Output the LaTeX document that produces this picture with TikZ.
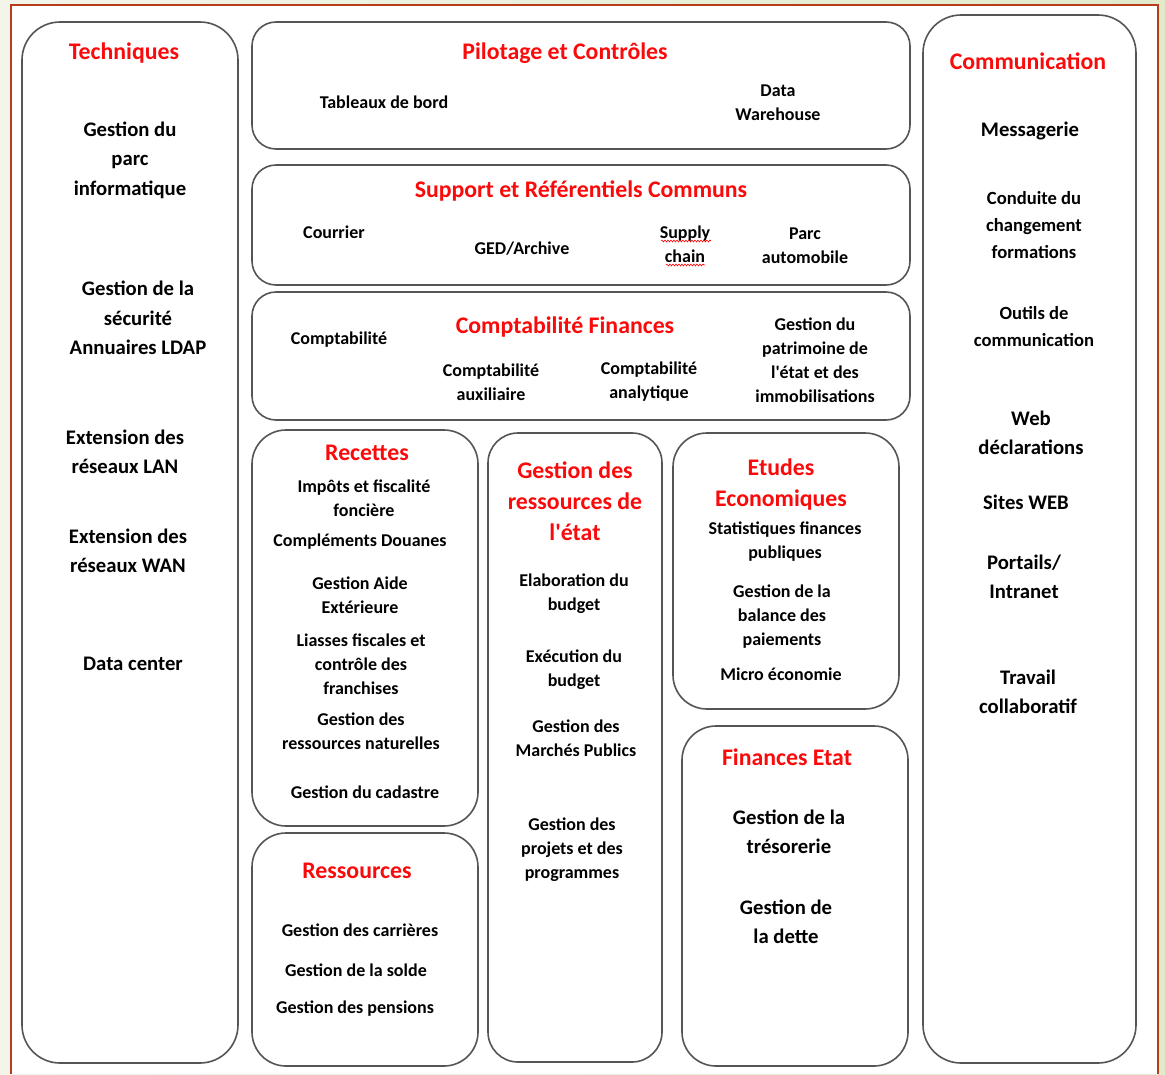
\documentclass[tikz,border=0pt]{standalone}
\usepackage{fontspec}
\setmainfont{Carlito}
\usepackage{tikz}
\usetikzlibrary{decorations.pathmorphing}
\usepackage{xcolor}

\definecolor{bgleft}{RGB}{243,245,234}
\definecolor{bgright}{RGB}{226,234,202}
\definecolor{framered}{RGB}{180,62,30}
\definecolor{panelgray}{RGB}{85,85,85}
\definecolor{titlered}{RGB}{250,10,10}

\tikzset{
  panel/.style={draw=panelgray, line width=1.6pt, fill=white},
  title/.style={text=titlered, font=\fontsize{23.8}{31}\selectfont\bfseries, align=center},
  item/.style={font=\fontsize{18}{24}\selectfont\bfseries, align=center},
  miditem/.style={font=\fontsize{18.6}{27}\selectfont\bfseries, align=center},
  bigitem/.style={font=\fontsize{20.7}{29.5}\selectfont\bfseries, align=center},
  spellmark/.style={draw=red, line width=0.6pt, decorate, decoration={snake, amplitude=0.9pt, segment length=3pt}},
}

\begin{document}
\begin{tikzpicture}[x=1pt, y=-1pt]
    \useasboundingbox (0,0) rectangle (1165,1074);

    % Background and frame
    \fill[left color=bgleft, right color=bgright] (0,0) rectangle (1165,1074);
    \fill[white] (11,5) rectangle (1158,1074);
    \draw[framered, line width=2pt] (11,1074) -- (11,5) -- (1158,5) -- (1158,1074);

    % Panels
    \draw[panel, rounded corners=38] (22,22) rectangle (238,1063);
    \draw[panel, rounded corners=24] (252,22) rectangle (910,149);
    \draw[panel, rounded corners=24] (252,165) rectangle (910,285);
    \draw[panel, rounded corners=24] (252,292) rectangle (910,420);
    \draw[panel, rounded corners=34] (252,430) rectangle (478,826);
    \draw[panel, rounded corners=34] (252,833) rectangle (478,1066);
    \draw[panel, rounded corners=30] (488,433) rectangle (662,1062);
    \draw[panel, rounded corners=34] (673,433) rectangle (899,709);
    \draw[panel, rounded corners=34] (682,726) rectangle (908,1066);
    \draw[panel, rounded corners=38] (923,15) rectangle (1136,1063);

    % Techniques
    \node[title] (techT) at (124,53) {Techniques};
    \node[bigitem] (parc) at (130,160) {Gestion du\\parc\\informatique};
    \node[bigitem] (secu) at (138,318) {Gestion de la\\sécurité\\Annuaires LDAP};
    \node[bigitem] (lan) at (125,452) {Extension des\\réseaux LAN};
    \node[bigitem] (wan) at (128,551) {Extension des\\réseaux WAN};
    \node[bigitem] (dc) at (133,664) {Data center};

    % Pilotage et Controles
    \node[title] (pilT) at (565,53) {Pilotage et Contrôles};
    \node[item] (tdb) at (384,102) {Tableaux de bord};
    \node[item] (dw) at (778,103) {Data\\Warehouse};

    % Support et Referentiels Communs
    \node[title] (supT) at (581,191) {Support et Référentiels Communs};
    \node[item] (courrier) at (334,232) {Courrier};
    \node[item] (ged) at (522,249) {GED/Archive};
    \node[item] (supply) at (685,244) {Supply\\chain};
    \node[item] (auto) at (805,246) {Parc\\automobile};
    \draw[spellmark] (661,241) -- (711,241);
    \draw[spellmark] (666,265) -- (705,265);

    % Comptabilite Finances
    \node[title] (cptT) at (565,327) {Comptabilité Finances};
    \node[item] (cpt) at (339,340) {Comptabilité};
    \node[item] (aux) at (491,382) {Comptabilité\\auxiliaire};
    \node[item] (ana) at (649,382) {Comptabilité\\analytique};
    \node[item] (patr) at (815,360) {Gestion du\\patrimoine de\\l\textquotesingle état et des\\immobilisations};

    % Recettes
    \node[title] (recT) at (367,453) {Recettes};
    \node[item] (impots) at (364,498) {Impôts et fiscalité\\foncière};
    \node[item] (douanes) at (360,542) {Compléments Douanes};
    \node[item] (aide) at (360,595) {Gestion Aide\\Extérieure};
    \node[item] (liasses) at (361,664) {Liasses fiscales et\\contrôle des\\franchises};
    \node[item] (natur) at (361,731) {Gestion des\\ressources naturelles};
    \node[item] (cadastre) at (365,792) {Gestion du cadastre};

    % Ressources
    \node[title] (resT) at (357,871) {Ressources};
    \node[item] (carr) at (360,930) {Gestion des carrières};
    \node[item] (solde) at (356,970) {Gestion de la solde};
    \node[item] (pens) at (355,1009) {Gestion des pensions};

    % Gestion des ressources de l'etat
    \node[title] (greT) at (575,501) {Gestion des\\ressources de\\l\textquotesingle état};
    \node[item] (elab) at (574,594) {Elaboration du\\budget};
    \node[item] (exec) at (574,670) {Exécution du\\budget};
    \node[item] (march) at (576,738) {Gestion des\\Marchés Publics};
    \node[item] (proj) at (572,850) {Gestion des\\projets et des\\programmes};

    % Etudes Economiques
    \node[title] (etuT) at (781,485) {Etudes\\Economiques};
    \node[item] (stat) at (785,542) {Statistiques finances\\publiques};
    \node[item] (bal) at (782,617) {Gestion de la\\balance des\\paiements};
    \node[item] (micro) at (781,674) {Micro économie};

    % Finances Etat
    \node[title] (finT) at (787,757) {Finances Etat};
    \node[bigitem] (treso) at (789,832) {Gestion de la\\trésorerie};
    \node[bigitem] (dette) at (786,922) {Gestion de\\la dette};

    % Communication
    \node[title] (comT) at (1028,61) {Communication};
    \node[bigitem] (mess) at (1030,131) {Messagerie};
    \node[miditem] (cond) at (1034,225) {Conduite du\\changement\\formations};
    \node[miditem] (outils) at (1034,327) {Outils de\\communication};
    \node[bigitem] (web) at (1031,433) {Web\\déclarations};
    \node[bigitem] (sites) at (1026,502) {Sites WEB};
    \node[bigitem] (port) at (1024,577) {Portails/\\Intranet};
    \node[bigitem] (trav) at (1028,692) {Travail\\collaboratif};
\end{tikzpicture}
\end{document}
